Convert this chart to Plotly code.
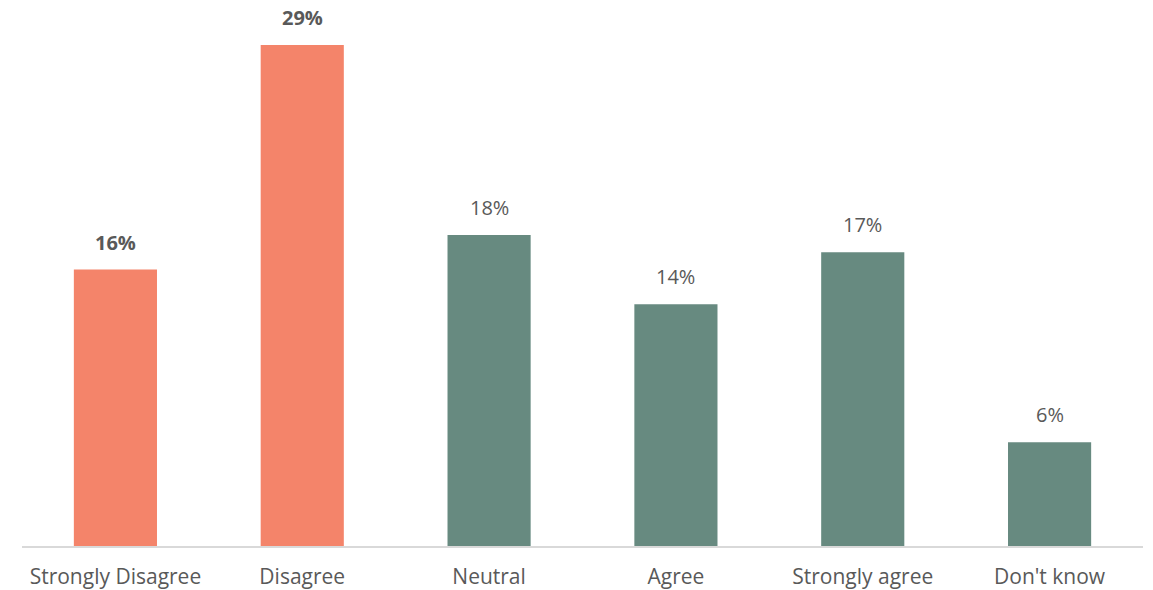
import plotly.graph_objects as go

categories = ["Strongly Disagree", "Disagree", "Neutral", "Agree", "Strongly agree", "Don't know"]
values = [16, 29, 18, 14, 17, 6]
disagree_color = "#F4846A"
other_color = "#678A80"
colors = [disagree_color, disagree_color, other_color, other_color, other_color, other_color]
bold_label = [True, True, False, False, False, False]

fig = go.Figure(
    go.Bar(
        x=categories,
        y=values,
        marker=dict(color=colors, line=dict(width=0)),
        hoverinfo="x+y",
    )
)

# value labels above each bar
for cat, val, bold in zip(categories, values, bold_label):
    txt = f"<b>{val}%</b>" if bold else f"{val}%"
    fig.add_annotation(
        x=cat,
        y=val,
        text=txt,
        showarrow=False,
        yanchor="bottom",
        yshift=12,
        font=dict(family="Open Sans", size=20, color="#595959"),
    )

fig.update_layout(
    width=1153,
    height=590,
    margin=dict(l=22, r=10, t=20, b=44),
    paper_bgcolor="white",
    plot_bgcolor="white",
    bargap=0.555,
    showlegend=False,
    font=dict(family="Open Sans", color="#595959"),
)
fig.update_xaxes(
    automargin=False,
    showline=True,
    linecolor="#D9D9D9",
    linewidth=1.5,
    showgrid=False,
    ticks="",
    tickfont=dict(family="Open Sans", size=21, color="#595959"),
    ticklabelstandoff=11,
)
fig.update_yaxes(
    range=[0, 30.45],
    visible=False,
    showgrid=False,
)

fig.write_html("out.html")
